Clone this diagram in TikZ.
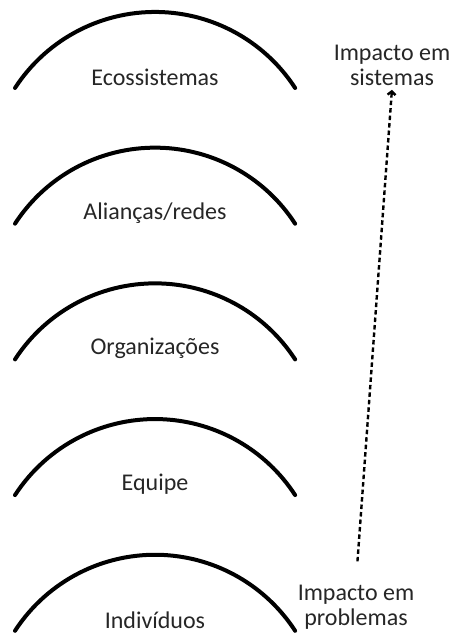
\documentclass[tikz,border=0pt]{standalone}
\usepackage{fontspec}
\setmainfont{Carlito}
\usetikzlibrary{arrows.meta}
\tikzset{
	arco/.style={line width=4pt, line cap=round},
	rotulo/.style={font=\fontsize{24}{25}\selectfont, text=black!85, align=center},
	seta/.style={line width=2.4pt, dash pattern=on 4.5pt off 3pt,
			-{Straight Barb[length=3.5pt,width=8pt]}}
}

\begin{document}
\begin{tikzpicture}[x=1pt,y=1pt]
	\useasboundingbox (0,0) rectangle (450,634);
	% cinco niveis
	\foreach \nome [count=\i from 0] in {Ecossistemas, {Alianças/redes}, Organizações, Equipe, Indivíduos} {
		\pgfmathsetmacro{\ytopo}{622-135.7*\i}
		\draw[arco] (15,\ytopo-76) arc[start angle=147, end angle=33, radius=167];
		\node[rotulo] (nivel\i) at (155,\ytopo-65) {\nome};
	}

	\node[rotulo] (sist) at (392,569) {Impacto em\\sistemas};
	\node[rotulo] (probl) at (356,27) {Impacto em\\problemas};
	\draw[seta, shorten <=20pt, shorten >=1pt] (probl.north) -- (sist.south);
\end{tikzpicture}
\end{document}
